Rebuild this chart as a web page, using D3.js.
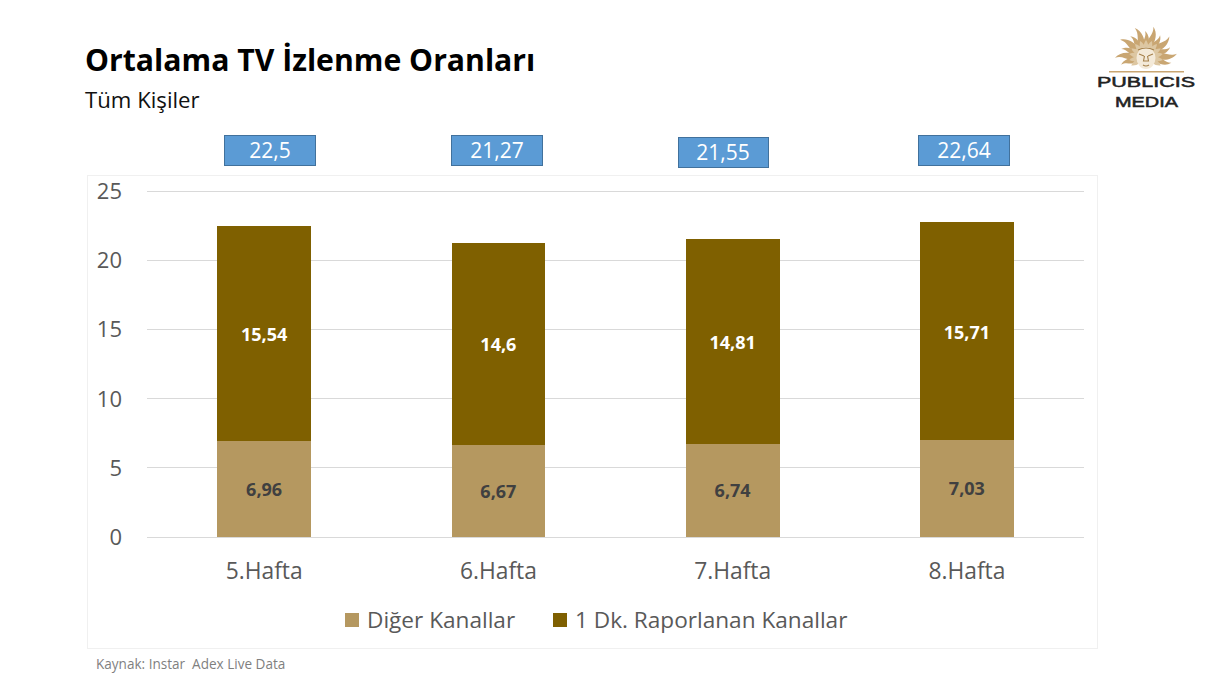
<!DOCTYPE html>
<html><head><meta charset="utf-8">
<script src="https://cdn.jsdelivr.net/npm/d3@7"></script>
<style>html,body{margin:0;background:#fff}svg{display:block}text{font-family:"Open Sans","Noto Sans",sans-serif;white-space:pre}</style>
</head><body><svg id="c" width="1232" height="680"></svg>
<script>
const categories = ["5.Hafta","6.Hafta","7.Hafta","8.Hafta"];
const otherChannels = [6.96,6.67,6.74,7.03];
const reportedChannels = [15.54,14.6,14.81,15.71];
const totals = ["22,5","21,27","21,55","22,64"];
const yTicks = [0,5,10,15,20,25];
const seriesNames = ["Diğer Kanallar","1 Dk. Raporlanan Kanallar"];
const fmt = v => String(v).replace(".",",");

const svg = d3.select("#c");
const x = d3.scaleBand().domain(categories).range([147,1084]).paddingInner(0.6).paddingOuter(0.3);
const y = d3.scaleLinear().domain([0,25]).range([537.2,191]);
const r = Math.round;

svg.append("text").attr("x",85).attr("y",71).attr("font-size",30.2).attr("font-weight",700).attr("fill","#000").text("Ortalama TV İzlenme Oranları");
svg.append("text").attr("x",85).attr("y",108).attr("font-size",22.2).attr("fill","#111").text("Tüm Kişiler");

svg.append("rect").attr("x",87.5).attr("y",175.5).attr("width",1010).attr("height",473).attr("fill","#fff").attr("stroke","#f0f0f0");

svg.append("g").selectAll("line").data(yTicks).join("line")
  .attr("x1",147).attr("x2",1084).attr("y1",d=>Math.floor(y(d))+.5).attr("y2",d=>Math.floor(y(d))+.5)
  .attr("stroke","#d9d9d9");

const yAxis = d3.axisLeft(y).tickValues(yTicks).tickSize(0).tickPadding(0);
const gy = svg.append("g").attr("transform","translate(122,0)").call(yAxis);
gy.select(".domain").remove();
gy.selectAll("text").attr("font-size",22).attr("fill","#595959").attr("font-family",'"Open Sans",sans-serif').attr("dy","0.34em");

const barG = svg.append("g");
categories.forEach((c,i)=>{
  const a = otherChannels[i], b = reportedChannels[i];
  const l = r(x(c)), w = r(x(c)+x.bandwidth()+0.1)-l, cx = x(c)+x.bandwidth()/2;
  barG.append("rect").attr("x",l).attr("width",w).attr("y",r(y(a))).attr("height",537-r(y(a))).attr("fill","#b59860");
  barG.append("rect").attr("x",l).attr("width",w).attr("y",r(y(a+b))).attr("height",r(y(a))-r(y(a+b))).attr("fill","#7f6000");
  barG.append("text").attr("x",cx).attr("y",(y(0)+y(a))/2+6.5).attr("text-anchor","middle")
    .attr("font-size",18).attr("font-weight",700).attr("fill","#404040").text(fmt(a));
  barG.append("text").attr("x",cx).attr("y",(y(a)+y(a+b))/2+7.5).attr("text-anchor","middle")
    .attr("font-size",18).attr("font-weight",700).attr("fill","#fff").text(fmt(b));
});

const xAxis = d3.axisBottom(x).tickSize(0).tickPadding(0);
const gx = svg.append("g").attr("transform","translate(0,579)").call(xAxis);
gx.select(".domain").remove();
gx.selectAll("text").attr("font-size",22.8).attr("fill","#595959").attr("font-family",'"Open Sans",sans-serif').attr("dy",0);

// annotation boxes sit slightly off the bars, as placed by hand in the slide
const boxX = d3.scaleOrdinal().domain(categories).range([224.5,451.5,678.5,918.5]);
const boxY = d3.scaleOrdinal().domain(categories).range([135.5,135.5,137.5,135.5]);
categories.forEach((c,i)=>{
  svg.append("rect").attr("x",boxX(c)).attr("y",boxY(c)).attr("width",i==2?90:91).attr("height",30).attr("fill","#5b9bd5").attr("stroke","#41719c");
  svg.append("text").attr("x",boxX(c)+45.5-(i==2?1:0)).attr("y",boxY(c)+22.5).attr("text-anchor","middle").attr("font-size",21).attr("fill","#fff").text(totals[i]);
});

const legend = svg.append("g");
[[345,367,"#b59860"],[553,575,"#7f6000"]].forEach((l,i)=>{
  legend.append("rect").attr("x",l[0]).attr("y",613).attr("width",14).attr("height",14).attr("fill",l[2]);
  legend.append("text").attr("x",l[1]).attr("y",628).attr("font-size",22.6).attr("fill","#595959").text(seriesNames[i]);
});

svg.append("text").attr("x",96).attr("y",669).attr("font-size",13.55).attr("fill","#7f7f7f").text("Kaynak: Instar  Adex Live Data");

// logo
const logo = svg.append("g").attr("transform","translate(1146,71)");
const sun = logo.append("g").attr("transform","translate(0,-14)");
const rayAngles = d3.range(-105,106,17.5);
sun.selectAll("path.ray").data(rayAngles).join("path").attr("class","ray")
  .attr("transform",d=>`rotate(${d})`)
  .attr("d",(d,i)=> i%2 ? "M-2.2,-12 C-5,-19 1,-23 -2,-31 C4,-26 4.5,-18 2.2,-12Z" : "M-2.2,-12 C-4,-17 1,-20 -1,-26 C3.5,-22 3.5,-16 2.2,-12Z")
  .attr("fill","#c9a672");
const inner = d3.range(-120,121,20);
sun.selectAll("path.inner").data(inner).join("path").attr("class","inner")
  .attr("transform",d=>`rotate(${d})`)
  .attr("d","M-2,-8 Q-3,-13 0,-17 Q3,-13 2,-8Z").attr("fill","#ddc7a2");
sun.append("ellipse").attr("cy",1).attr("rx",9.5).attr("ry",11).attr("fill","#f4ead9");
sun.append("path").attr("d","M-7,-3 L-2,-1 M7,-3 L2,-1 M-1.5,-1 L-2.5,4 L2.5,4 L1.5,-1 M-3,8 Q0,10 3,8 M-8,-7 Q0,-11 8,-7").attr("fill","none").attr("stroke","#a5804a").attr("stroke-width",1.1);
logo.append("rect").attr("x",-37).attr("y",0).attr("width",75).attr("height",1.5).attr("fill","#c9a672");
const logoFont = "'Liberation Sans',sans-serif";
logo.append("text").attr("y",16).attr("x",-49).attr("font-size",14.5).style("font-family",logoFont).attr("textLength",98).attr("lengthAdjust","spacingAndGlyphs").attr("stroke","#222").attr("stroke-width",.5).attr("fill","#222").text("PUBLICIS");
logo.append("text").attr("y",36).attr("x",-31).attr("font-size",14.5).style("font-family",logoFont).attr("textLength",63).attr("lengthAdjust","spacingAndGlyphs").attr("stroke","#222").attr("stroke-width",.5).attr("fill","#222").text("MEDIA");
</script></body></html>
